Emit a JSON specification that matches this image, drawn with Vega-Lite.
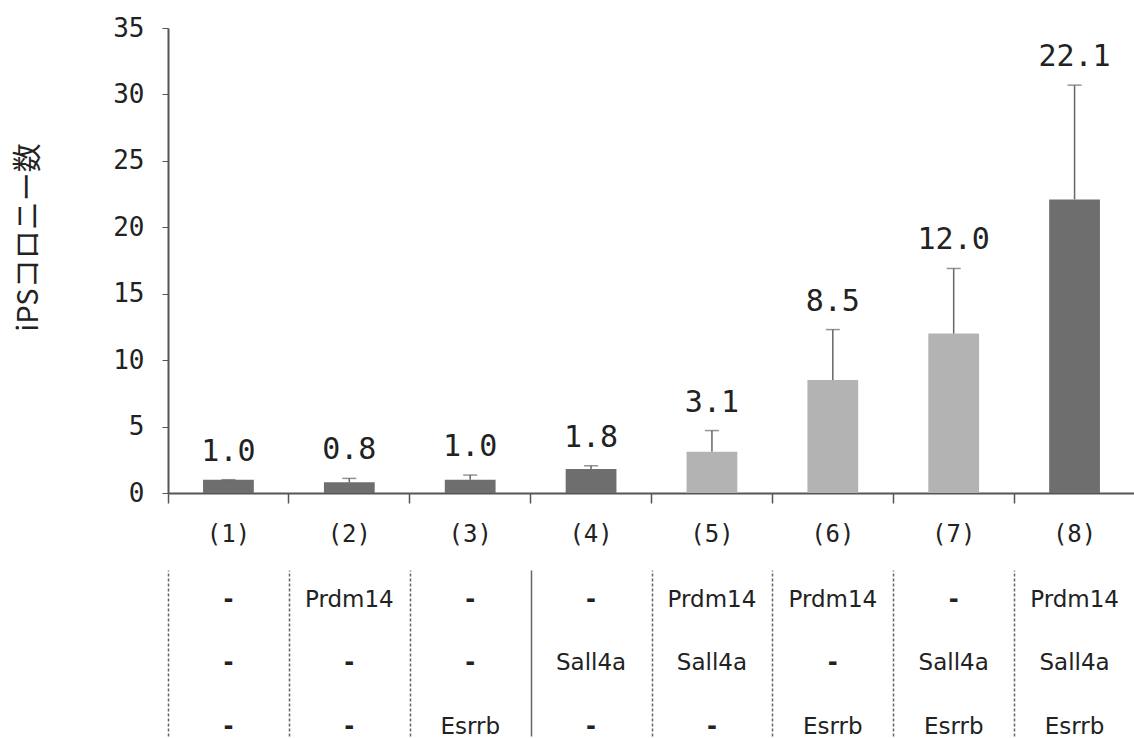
{
  "$schema": "https://vega.github.io/schema/vega-lite/v6.json",
  "padding": {"left": 14, "top": 15, "right": 0, "bottom": 0},
  "background": "white",
  "spacing": 24,
  "config": {"view": {"stroke": null}},
  "vconcat": [
    {
      "width": 967,
      "height": 465,
      "data": {"values": [
        {"group": "(1)", "value": 1.0, "upper": 1.0, "fill": "hatch"},
        {"group": "(2)", "value": 0.8, "upper": 1.1, "fill": "hatch"},
        {"group": "(3)", "value": 1.0, "upper": 1.35, "fill": "hatch"},
        {"group": "(4)", "value": 1.8, "upper": 2.05, "fill": "hatch"},
        {"group": "(5)", "value": 3.1, "upper": 4.7, "fill": "dot"},
        {"group": "(6)", "value": 8.5, "upper": 12.3, "fill": "dot"},
        {"group": "(7)", "value": 12.0, "upper": 16.9, "fill": "dot"},
        {"group": "(8)", "value": 22.1, "upper": 30.7, "fill": "hatch"}
      ]},
      "encoding": {
        "x": {
          "field": "group", "type": "nominal", "sort": null,
          "scale": {"domain": ["(1)", "(2)", "(3)", "(4)", "(5)", "(6)", "(7)", "(8)"], "paddingInner": 0, "paddingOuter": 0},
          "axis": {
            "title": null, "bandPosition": 0, "labelAngle": 0,
            "tickSize": 10, "tickColor": "#555", "tickWidth": 1.5,
            "domainColor": "#555", "domainWidth": 2,
            "labelFont": "DejaVu Sans Mono", "labelFontSize": 24, "labelColor": "#222",
            "labelPadding": 19, "labelOverlap": false
          }
        }
      },
      "layer": [
        {
          "mark": {"type": "bar", "width": {"band": 0.42}},
          "encoding": {
            "y": {
              "field": "value", "type": "quantitative",
              "scale": {"domain": [0, 35], "nice": false},
              "axis": {
                "title": "iPSコロニー数", "titleFont": "Noto Sans CJK JP", "titleFontSize": 29,
                "titleFontWeight": "normal", "titleColor": "#222", "titlePadding": 69, "titleY": 209,
                "values": [0, 5, 10, 15, 20, 25, 30, 35], "grid": false,
                "labelFont": "DejaVu Sans Mono", "labelFontSize": 26, "labelColor": "#222",
                "labelPadding": 18, "tickSize": 6, "tickColor": "#555",
                "domainColor": "#555", "domainWidth": 2
              }
            },
            "color": {
              "field": "fill", "type": "nominal",
              "scale": {"domain": ["hatch", "dot"], "range": ["#6e6e6e", "#b3b3b3"]},
              "legend": null
            }
          }
        },
        {
          "mark": {"type": "rule", "color": "#666", "strokeWidth": 1.5},
          "encoding": {
            "y": {"field": "value", "type": "quantitative"},
            "y2": {"field": "upper"}
          }
        },
        {
          "mark": {"type": "tick", "color": "#666", "thickness": 1.5, "size": 14},
          "encoding": {
            "y": {"field": "upper", "type": "quantitative"}
          }
        },
        {
          "mark": {"type": "text", "font": "DejaVu Sans Mono", "fontSize": 30, "color": "#222", "baseline": "alphabetic", "dy": -19},
          "encoding": {
            "y": {"field": "upper", "type": "quantitative"},
            "text": {"field": "value", "type": "quantitative", "format": ".1f"}
          }
        }
      ]
    },
    {
      "width": 967,
      "height": 166,
      "data": {"values": [
        {"group": "(1)", "row": 1, "gene": "-"}, {"group": "(1)", "row": 2, "gene": "-"}, {"group": "(1)", "row": 3, "gene": "-"},
        {"group": "(2)", "row": 1, "gene": "Prdm14"}, {"group": "(2)", "row": 2, "gene": "-"}, {"group": "(2)", "row": 3, "gene": "-"},
        {"group": "(3)", "row": 1, "gene": "-"}, {"group": "(3)", "row": 2, "gene": "-"}, {"group": "(3)", "row": 3, "gene": "Esrrb"},
        {"group": "(4)", "row": 1, "gene": "-"}, {"group": "(4)", "row": 2, "gene": "Sall4a"}, {"group": "(4)", "row": 3, "gene": "-"},
        {"group": "(5)", "row": 1, "gene": "Prdm14"}, {"group": "(5)", "row": 2, "gene": "Sall4a"}, {"group": "(5)", "row": 3, "gene": "-"},
        {"group": "(6)", "row": 1, "gene": "Prdm14"}, {"group": "(6)", "row": 2, "gene": "-"}, {"group": "(6)", "row": 3, "gene": "Esrrb"},
        {"group": "(7)", "row": 1, "gene": "-"}, {"group": "(7)", "row": 2, "gene": "Sall4a"}, {"group": "(7)", "row": 3, "gene": "Esrrb"},
        {"group": "(8)", "row": 1, "gene": "Prdm14"}, {"group": "(8)", "row": 2, "gene": "Sall4a"}, {"group": "(8)", "row": 3, "gene": "Esrrb"}
      ]},
      "encoding": {
        "x": {
          "field": "group", "type": "nominal", "sort": null,
          "scale": {"domain": ["(1)", "(2)", "(3)", "(4)", "(5)", "(6)", "(7)", "(8)"], "paddingInner": 0, "paddingOuter": 0},
          "axis": {
            "title": null, "tickBand": "extent", "grid": true, "labels": false, "ticks": false, "domain": false,
            "gridColor": "#666", "gridWidth": 1.5,
            "gridDash": {"condition": {"test": "datum.value === '(3)'", "value": []}, "value": [3, 2]}
          }
        },
        "y": {
          "field": "row", "type": "quantitative",
          "scale": {"domain": [0.53, 3.144], "reverse": true, "nice": false, "zero": false},
          "axis": null
        }
      },
      "layer": [
        {
          "transform": [{"filter": "datum.gene !== '-'"}],
          "mark": {"type": "text", "font": "DejaVu Sans", "fontSize": 23, "color": "#222", "baseline": "middle"},
          "encoding": {"text": {"field": "gene"}}
        },
        {
          "transform": [{"filter": "datum.gene === '-'"}],
          "mark": {"type": "text", "font": "DejaVu Sans", "fontSize": 24, "fontWeight": "bold", "color": "#222", "baseline": "middle"},
          "encoding": {"text": {"field": "gene"}}
        }
      ]
    }
  ]
}
